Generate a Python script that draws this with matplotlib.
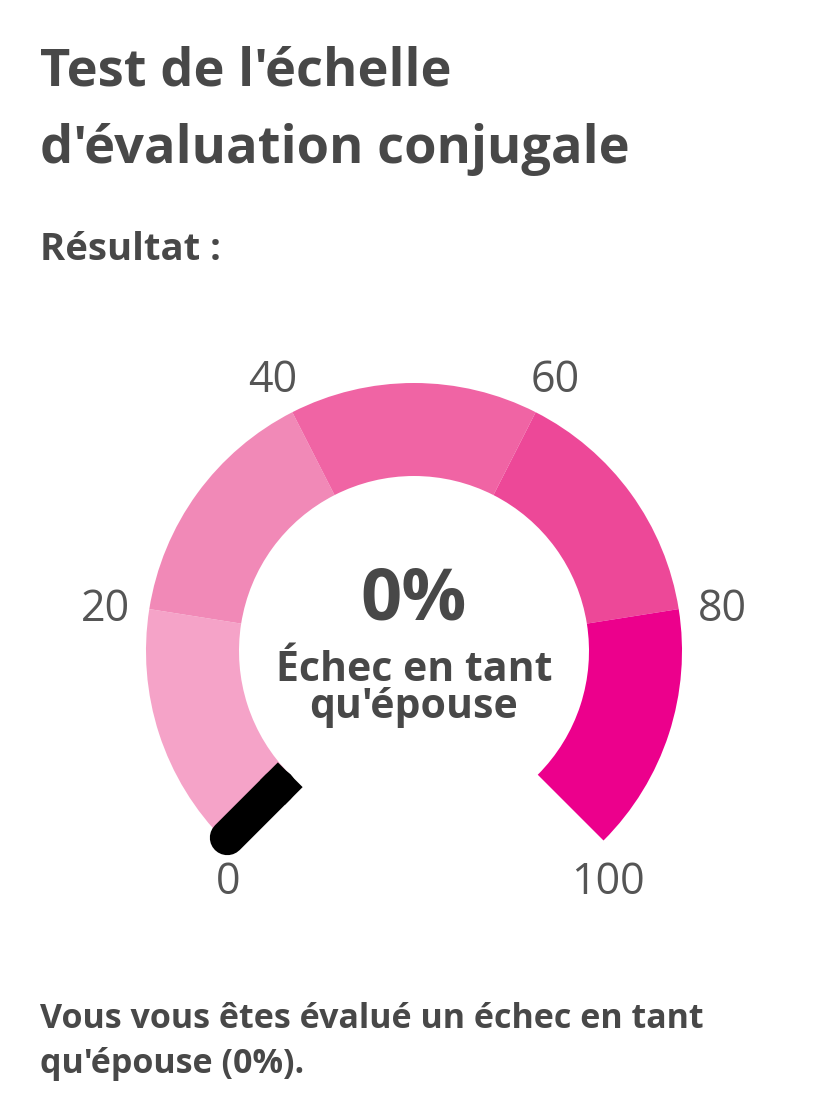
import numpy as np
import matplotlib.pyplot as plt
from matplotlib.patches import Wedge

title_lines = ["Test de l'échelle", "d'évaluation conjugale"]
subtitle = "Résultat :"
score = 0
score_label = "0%"
verdict_lines = ["Échec en tant", "qu'épouse"]
summary_lines = ["Vous vous êtes évalué un échec en tant", "qu'épouse (0%)."]
band_edges = [0, 20, 40, 60, 80, 100]
band_colors = ['#f5a3c8', '#f189b7', '#f064a4', '#ed4898', '#ec008c']
tick_values = [0, 20, 40, 60, 80, 100]

plt.rcParams['font.family'] = ['Open Sans', 'DejaVu Sans']
dark = '#484848'

W, H = 828, 1112
fig = plt.figure(figsize=(W / 100, H / 100), dpi=100)
ax = fig.add_axes([0, 0, 1, 1])
ax.set_xlim(0, W)
ax.set_ylim(H, 0)
ax.set_aspect('equal')
ax.axis('off')

cx, cy = 414, 651
R_out, R_in = 268, 175


def screen_angle(v):
    # 0 at lower left, 100 at lower right, 270 degree sweep
    return 225 - 2.7 * v


def point(v, r):
    a = np.radians(screen_angle(v))
    return cx + r * np.cos(a), cy - r * np.sin(a)


# bands
for i in range(len(band_colors)):
    a1 = screen_angle(band_edges[i])
    a2 = screen_angle(band_edges[i + 1])
    ax.add_patch(Wedge((cx, cy), R_out, -a1, -a2, width=R_out - R_in,
                       facecolor=band_colors[i], edgecolor='none'))

# needle
nw = 35 * 0.72
x0, y0 = point(score, R_in)
x1, y1 = point(score, R_in + 25)
x2, y2 = point(score, R_in + 17)
x3, y3 = point(score, R_out - 4)
ax.plot([x0, x1], [y0, y1], color='black', lw=nw, solid_capstyle='butt')
ax.plot([x2, x3], [y2, y3], color='black', lw=nw, solid_capstyle='round')

# tick labels
for v in tick_values:
    a = np.radians(screen_angle(v))
    if np.sin(a) < -0.3:
        x, y = point(v, R_out)
        ax.text(x + 4, y + 20, str(v), fontsize=31, color='#555555',
                ha='center', va='top')
    else:
        x, y = point(v, 312)
        ax.text(x, y + 8, str(v), fontsize=31, color='#555555',
                ha='center', va='center')

# centre text
ax.text(cx, 620, score_label, fontsize=52, weight='bold', color=dark,
        ha='center', va='baseline')
ax.text(cx, 681, verdict_lines[0], fontsize=29.5, weight='bold', color=dark,
        ha='center', va='baseline')
ax.text(cx, 718, verdict_lines[1], fontsize=29.5, weight='bold', color=dark,
        ha='center', va='baseline')

# header
ax.text(40, 85, title_lines[0], fontsize=37.7, weight='bold', color=dark, va='baseline')
ax.text(40, 163, title_lines[1], fontsize=37.7, weight='bold', color=dark, va='baseline')
ax.text(40, 260, subtitle, fontsize=27.5, weight='bold', color=dark, va='baseline')

# footer
ax.text(40, 1028, summary_lines[0], fontsize=24.5, weight='bold', color=dark, va='baseline')
ax.text(40, 1073, summary_lines[1], fontsize=24.5, weight='bold', color=dark, va='baseline')

fig.savefig('out.png', dpi=100, facecolor='white')
